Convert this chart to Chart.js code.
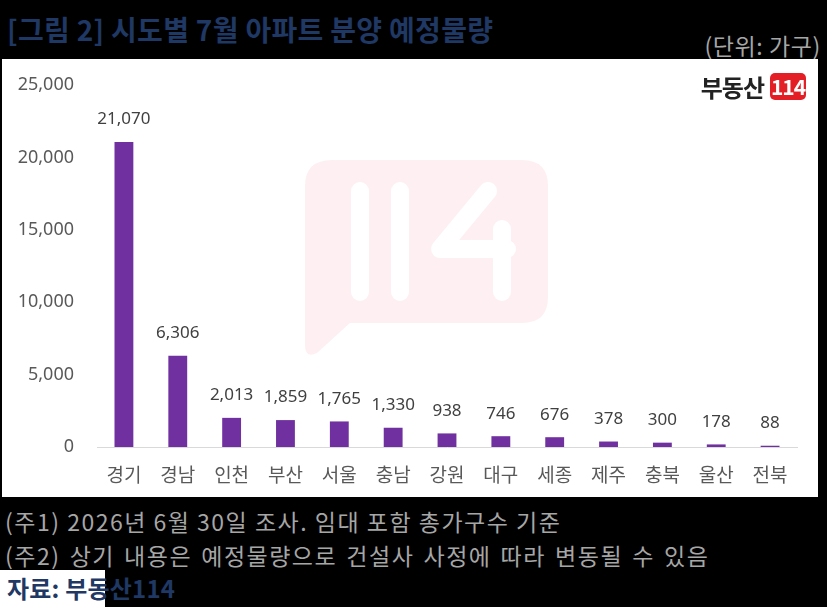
<!DOCTYPE html>
<html>
<head>
<meta charset="utf-8">
<script src="https://cdn.jsdelivr.net/npm/chart.js@4.4.0/dist/chart.umd.min.js"></script>
<style>
  body { margin: 0; background: #000; width: 827px; height: 607px; overflow: hidden; position: relative;
         font-family: 'Noto Sans CJK KR', 'Noto Sans', sans-serif; }
  #title { position: absolute; left: 7px; top: 9px; font-size: 28px; line-height: 40px; font-weight: bold; color: #1F3864;
           letter-spacing: 0.3px; white-space: nowrap; }
  #unit { position: absolute; right: 6px; top: 28px; font-size: 23px; line-height: 34px; color: #a6a6a6;
          white-space: nowrap; letter-spacing: 0.6px; }
  #box { position: absolute; left: 2px; top: 59px; width: 816px; height: 438px; background: #fff; }
  #logo { position: absolute; right: 12px; top: 14px; height: 27px; display: flex; align-items: center; }
  #logo .txt { font-size: 24px; font-weight: bold; color: #222; letter-spacing: -1px; margin-right: 6px; }
  #logo .red { background: #e31e24; color: #fff; font-weight: bold; font-size: 21px; border-radius: 5px;
               width: 36px; text-align: center; height: 27px; line-height: 27px; letter-spacing: -1px; }
  .note { position: absolute; left: 5px; font-size: 23px; line-height: 34px; color: #a6a6a6; white-space: nowrap; letter-spacing: 1.5px; }
  #src-bg { position: absolute; left: 0; top: 570px; width: 105px; height: 37px; background: #fff; }
  #src { position: absolute; left: 7px; top: 571px; font-size: 24px; line-height: 34px; font-weight: bold; color: #1F3864;
         white-space: nowrap; letter-spacing: 0.2px; }
</style>
</head>
<body>
<div id="title">[그림 2] 시도별 7월 아파트 분양 예정물량</div>
<div id="unit">(단위: 가구)</div>
<div id="box">
  <canvas id="chart" width="816" height="438"></canvas>
  <div id="logo"><span class="txt">부동산</span><span class="red">114</span></div>
</div>
<div class="note" style="top:504px">(주1) 2026년 6월 30일 조사. 임대 포함 총가구수 기준</div>
<div class="note" style="top:538px; word-spacing: 2.5px">(주2) 상기 내용은 예정물량으로 건설사 사정에 따라 변동될 수 있음</div>
<div id="src-bg"></div>
<div id="src">자료: 부동산114</div>

<script>
const regions = ['경기', '경남', '인천', '부산', '서울', '충남', '강원', '대구', '세종', '제주', '충북', '울산', '전북'];
const units = [21070, 6306, 2013, 1859, 1765, 1330, 938, 746, 676, 378, 300, 178, 88];
const yTicks = [0, 5000, 10000, 15000, 20000, 25000];

// pale "114" speech bubble behind the bars
const watermark = {
  id: 'watermark',
  beforeDatasetsDraw(chart) {
    const ctx = chart.ctx;
    ctx.save();
    ctx.fillStyle = '#fef0f2';
    ctx.beginPath();
    ctx.moveTo(330, 101);
    ctx.lineTo(520, 101);
    ctx.quadraticCurveTo(546, 101, 546, 127);
    ctx.lineTo(546, 238);
    ctx.quadraticCurveTo(546, 264, 520, 264);
    ctx.lineTo(348, 264);
    ctx.lineTo(315, 294);
    ctx.quadraticCurveTo(303, 300, 303, 286);
    ctx.lineTo(303, 127);
    ctx.quadraticCurveTo(303, 101, 330, 101);
    ctx.closePath();
    ctx.fill();
    ctx.strokeStyle = '#ffffff';
    ctx.lineWidth = 18;
    ctx.lineCap = 'round';
    ctx.lineJoin = 'round';
    ctx.beginPath();
    ctx.moveTo(358, 132); ctx.lineTo(358, 233);
    ctx.moveTo(398, 132); ctx.lineTo(398, 233);
    ctx.moveTo(486, 132); ctx.lineTo(438, 190); ctx.lineTo(505, 190);
    ctx.moveTo(500, 170); ctx.lineTo(500, 233);
    ctx.stroke();
    ctx.restore();
  }
};

// value labels above each bar
const barLabels = {
  id: 'barLabels',
  afterDatasetsDraw(chart) {
    const ctx = chart.ctx;
    const meta = chart.getDatasetMeta(0);
    ctx.save();
    ctx.font = '17px "Noto Sans", sans-serif';
    ctx.fillStyle = '#404040';
    ctx.textAlign = 'center';
    ctx.textBaseline = 'bottom';
    meta.data.forEach((bar, i) => {
      ctx.fillText(units[i].toLocaleString('en-US'), bar.x, bar.y - 14);
    });
    ctx.restore();
  }
};

new Chart(document.getElementById('chart'), {
  type: 'bar',
  data: {
    labels: regions,
    datasets: [{
      data: units,
      backgroundColor: '#7030A0',
      categoryPercentage: 1,
      barPercentage: 0.35
    }]
  },
  options: {
    responsive: false,
    animation: false,
    layout: { padding: { top: 26, right: 21, left: 0, bottom: 0 } },
    plugins: { legend: { display: false }, tooltip: { enabled: false } },
    scales: {
      x: {
        grid: { display: false, drawTicks: false },
        border: { color: '#d9d9d9', width: 1 },
        ticks: { color: '#595959', font: { size: 19, family: '"Noto Sans CJK KR", sans-serif' }, padding: 16 },
        afterFit(scale) { scale.height = 50; }
      },
      y: {
        min: 0,
        max: 25000,
        grid: { display: false, drawTicks: false },
        border: { display: false },
        afterBuildTicks(scale) { scale.ticks = yTicks.map(v => ({ value: v })); },
        ticks: {
          color: '#595959',
          font: { size: 18, family: '"Noto Sans", sans-serif' },
          padding: 23,
          callback: v => v.toLocaleString('en-US')
        },
        afterFit(scale) {
          scale.width = 95;
          scale.paddingTop = 0;
          scale.paddingBottom = 0;
        }
      }
    }
  },
  plugins: [watermark, barLabels]
});
</script>
</body>
</html>
